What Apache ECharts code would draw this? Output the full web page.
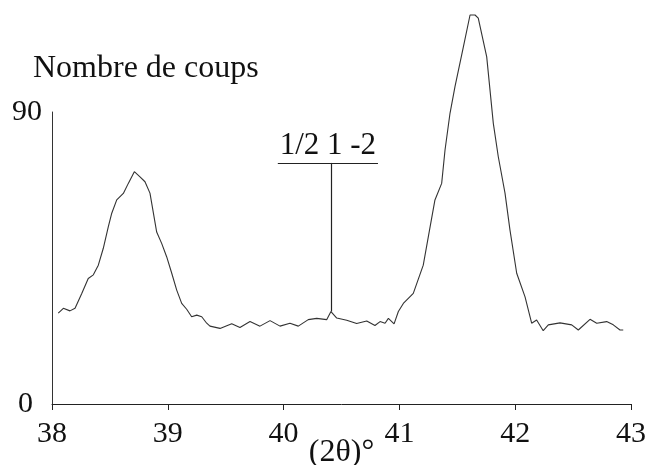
<!DOCTYPE html>
<html>
<head>
<meta charset="utf-8">
<script src="https://cdn.jsdelivr.net/npm/echarts@6/dist/echarts.min.js"></script>
<style>
  html, body { margin: 0; padding: 0; background: #fff; }
  #diffractogram { width: 646px; height: 465px; }
</style>
</head>
<body>
<div id="diffractogram"></div>
<script>
// angle 2theta (deg) and counts
var twoTheta = [
  38.054, 38.098, 38.155, 38.199, 38.256, 38.313, 38.357, 38.400, 38.443, 38.486,
  38.516, 38.559, 38.616, 38.659, 38.711, 38.760, 38.803, 38.846, 38.904, 38.947,
  38.990, 39.034, 39.077, 39.120, 39.163, 39.206, 39.250, 39.293, 39.336, 39.364,
  39.451, 39.552, 39.623, 39.710, 39.796, 39.883, 39.969, 40.055, 40.127, 40.213,
  40.286, 40.372, 40.409, 40.459, 40.545, 40.631, 40.718, 40.789, 40.833, 40.876,
  40.905, 40.954, 40.991, 41.034, 41.120, 41.206, 41.250, 41.307, 41.365, 41.394,
  41.437, 41.480, 41.552, 41.610, 41.653, 41.681, 41.754, 41.811, 41.854, 41.912,
  41.955, 42.013, 42.085, 42.142, 42.185, 42.242, 42.286, 42.387, 42.488, 42.545,
  42.646, 42.704, 42.790, 42.847, 42.905, 42.933
];
var counts = [
  28.0, 29.5, 28.7, 29.5, 34.0, 38.7, 39.8, 42.8, 48.0, 54.6,
  58.8, 62.9, 64.9, 68.0, 71.6, 70.0, 68.5, 65.0, 53.0, 49.5,
  45.4, 40.3, 35.1, 31.0, 29.2, 26.9, 27.4, 26.9, 24.9, 24.0,
  23.3, 24.7, 23.6, 25.4, 24.0, 25.7, 24.0, 24.9, 24.0, 26.0,
  26.4, 26.0, 28.5, 26.5, 25.8, 24.8, 25.6, 24.2, 25.4, 24.9,
  26.4, 24.7, 28.5, 31.0, 34.1, 42.8, 51.6, 62.9, 68.0, 78.3,
  89.6, 97.8, 110.0, 119.9, 119.9, 118.9, 107.0, 86.5, 76.2, 65.0,
  53.6, 40.3, 33.0, 24.9, 25.9, 22.6, 24.4, 25.0, 24.4, 22.8,
  26.1, 24.9, 25.4, 24.4, 22.8, 22.8
];
var xTicks = [38, 39, 40, 41, 42, 43];
var yTicks = [0, 90];

// reflection label and its leader line
var peakLabel = '1/2 1 -2';
var peakIndex = 42;          // point the leader line starts from
var labelLevel = 74.3;       // count level of the underline
var underlineFrom = 39.95;
var underlineTo = 40.815;

var serif = "'Liberation Serif', 'Times New Roman', serif";

var chart = echarts.init(document.getElementById('diffractogram'));

var points = [];
for (var i = 0; i < twoTheta.length; i++) {
  points.push([twoTheta[i], counts[i]]);
}

var option = {
  animation: false,
  title: {
    text: 'Nombre de coups',
    left: 28,
    top: 48,
    textStyle: { fontFamily: serif, fontSize: 32, fontWeight: 'normal', color: '#111' }
  },
  grid: {
    left: 52, right: 15, top: 112, bottom: 61,
    containLabel: false,
    outerBoundsMode: 'none'
  },
  xAxis: {
    type: 'value',
    min: xTicks[0],
    max: xTicks[xTicks.length - 1],
    interval: 1,
    name: '(2θ)°',
    nameLocation: 'middle',
    nameGap: 33,
    nameMoveOverlap: false,
    nameTextStyle: { fontFamily: serif, fontSize: 32, color: '#111' },
    axisLine: { onZero: false, lineStyle: { color: '#222', width: 1 } },
    axisTick: { show: true, inside: false, length: 6, lineStyle: { color: '#222' } },
    axisLabel: { margin: 15, fontFamily: serif, fontSize: 30, color: '#111' },
    splitLine: { show: false }
  },
  yAxis: {
    type: 'value',
    min: yTicks[0],
    max: yTicks[1],
    interval: yTicks[1] - yTicks[0],
    axisLine: { show: true, lineStyle: { color: '#333', width: 1 } },
    axisTick: { show: false },
    axisLabel: {
      margin: 10,
      fontFamily: serif,
      fontSize: 30,
      color: '#111',
      formatter: function (v) {
        return v === 0 ? '{zero|0}' : String(v);
      },
      rich: {
        zero: { fontFamily: serif, fontSize: 30, color: '#111', padding: [0, 9, 0, 0] }
      }
    },
    splitLine: { show: false }
  },
  series: [
    {
      type: 'line',
      data: points,
      clip: false,
      symbol: 'none',
      smooth: false,
      lineStyle: { color: '#333', width: 1.1 },
      markLine: {
        silent: true,
        symbol: 'none',
        animation: false,
        lineStyle: { color: '#222', type: 'solid', width: 1.2 },
        data: [
          [
            { coord: [twoTheta[peakIndex], counts[peakIndex]] },
            { coord: [twoTheta[peakIndex], labelLevel] }
          ],
          [
            {
              coord: [underlineFrom, labelLevel],
              label: {
                show: true,
                formatter: peakLabel,
                position: 'insideMiddleTop',
                distance: 2,
                fontFamily: serif,
                fontSize: 31,
                color: '#111'
              }
            },
            { coord: [underlineTo, labelLevel] }
          ]
        ],
        label: { show: false }
      }
    }
  ]
};

chart.setOption(option);
</script>
</body>
</html>
